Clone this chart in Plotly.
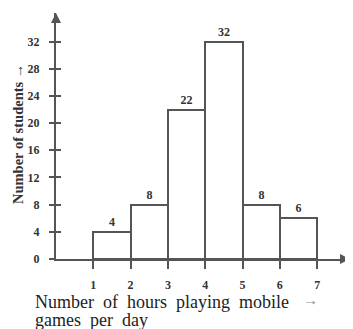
import plotly.graph_objects as go

hours_lower = [1, 2, 3, 4, 5, 6]
hours_upper = [2, 3, 4, 5, 6, 7]
students = [4, 8, 22, 32, 8, 6]
x_ticks = [1, 2, 3, 4, 5, 6, 7]
y_ticks = [0, 4, 8, 12, 16, 20, 24, 28, 32]

mids = [(a + b) / 2 for a, b in zip(hours_lower, hours_upper)]
widths = [b - a for a, b in zip(hours_lower, hours_upper)]

SERIF = "Liberation Serif, Times New Roman, serif"
LINE = "#555555"

fig = go.Figure()
fig.add_trace(go.Bar(
    x=mids, y=students, width=widths,
    marker=dict(color="white", line=dict(color=LINE, width=2)),
    text=[str(v) for v in students], textposition="outside",
    textfont=dict(family=SERIF, size=12, color="#333"),
    texttemplate="<b>%{text}</b>", cliponaxis=False,
    hoverinfo="skip",
))
# invisible trace on overlay axis to create inside ticks
fig.add_trace(go.Scatter(x=[0], y=[0], yaxis="y2", mode="markers",
                         marker=dict(opacity=0), hoverinfo="skip", showlegend=False))

xmax, ymax = 7.88, 36.2
# page body has an 8px margin, so the figure is sized to the visible window minus it
fig.update_layout(
    width=345, height=321,
    margin=dict(l=48, r=3, t=5, b=70, autoexpand=False),
    paper_bgcolor="white", plot_bgcolor="white",
    showlegend=False, bargap=0,
    xaxis=dict(range=[0, xmax], tickvals=x_ticks,
               ticktext=[f"<b>{v}</b>" for v in x_ticks],
               ticks="outside", ticklen=8, tickwidth=2, tickcolor=LINE,
               showline=True, linecolor=LINE, linewidth=2,
               showgrid=False, zeroline=False, automargin=False,
               tickfont=dict(family=SERIF, size=12, color="#333"),
               ticklabelstandoff=6),
    yaxis=dict(range=[0, ymax], tickvals=y_ticks,
               ticktext=[f"<b>{v}</b>" for v in y_ticks],
               ticks="outside", ticklen=5, tickwidth=2, tickcolor=LINE,
               showline=True, linecolor=LINE, linewidth=2,
               showgrid=False, zeroline=False, automargin=False,
               tickfont=dict(family=SERIF, size=12, color="#333"),
               ticklabelstandoff=7),
    yaxis2=dict(range=[0, ymax], tickvals=y_ticks[1:], overlaying="y",
                ticks="inside", ticklen=5, tickwidth=2, tickcolor=LINE,
                showticklabels=False, showgrid=False, zeroline=False,
                showline=False),
)

# axis arrowheads
fig.add_annotation(x=xmax, y=0, ax=xmax - 0.3, ay=0, xref="x", yref="y",
                   axref="x", ayref="y", showarrow=True, arrowhead=2,
                   arrowsize=1, arrowwidth=2, arrowcolor=LINE, text="")
fig.add_annotation(x=0, y=ymax, ax=0, ay=ymax - 1.5, xref="x", yref="y",
                   axref="x", ayref="y", showarrow=True, arrowhead=2,
                   arrowsize=1, arrowwidth=2, arrowcolor=LINE, text="")

# axis titles (pixel offsets relative to plot-area edges)
SP = "\u2002"
fig.add_annotation(xref="paper", yref="paper", x=0, y=0, xshift=-23, yshift=-31,
                   xanchor="left", yanchor="top", showarrow=False,
                   text=SP.join("Number of hours playing mobile".split(" ")),
                   font=dict(family=SERIF, size=18, color="#222"))
fig.add_annotation(xref="paper", yref="paper", x=0, y=0, xshift=-23, yshift=-49,
                   xanchor="left", yanchor="top", showarrow=False,
                   text=SP.join("games per day".split(" ")),
                   font=dict(family=SERIF, size=18, color="#222"))
fig.add_annotation(xref="paper", yref="paper", x=0, y=0, xshift=245, yshift=-31,
                   xanchor="left", yanchor="top", showarrow=False,
                   text="→", font=dict(family=SERIF, size=15, color="#888"))
fig.add_annotation(xref="paper", yref="paper", x=0, y=0.5, xshift=-38, yshift=2,
                   xanchor="center", yanchor="middle", textangle=-90, showarrow=False,
                   text="<b>Number of students →</b>",
                   font=dict(family=SERIF, size=14.5, color="#333"))

fig.write_html("out.html")
